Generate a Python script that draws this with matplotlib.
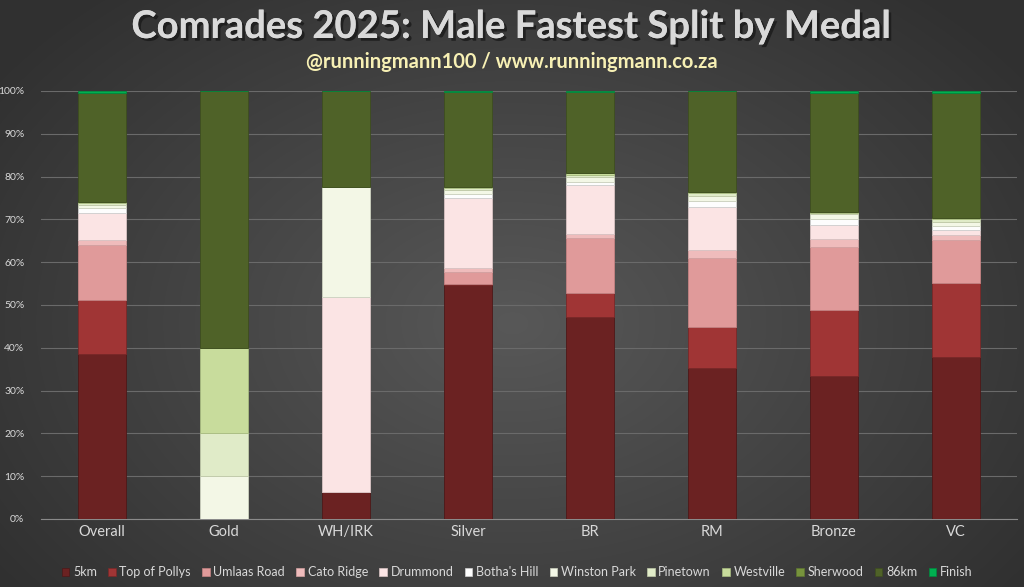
import numpy as np
import matplotlib
matplotlib.use("Agg")
import matplotlib.pyplot as plt
import matplotlib.patheffects as pe
from matplotlib.patches import Patch

categories = ["Overall", "Gold", "WH/IRK", "Silver", "BR", "RM", "Bronze", "VC"]
splits = ["5km", "Top of Pollys", "Umlaas Road", "Cato Ridge", "Drummond", "Botha's Hill",
          "Winston Park", "Pinetown", "Westville", "Sherwood", "86km", "Finish"]

# share (%) of runners whose fastest split was at each point, per medal group
km5          = [38.5,  0.0,  6.4, 54.7, 47.1, 35.2, 33.3, 37.9]
top_pollys   = [12.7,  0.0,  0.0,  0.3,  5.8,  9.6, 15.5, 17.2]
umlaas_road  = [12.8,  0.0,  0.0,  2.8, 12.7, 16.2, 14.7, 10.1]
cato_ridge   = [ 1.2,  0.0,  0.0,  0.8,  1.1,  1.8,  2.0,  1.2]
drummond     = [ 6.2,  0.0, 45.5, 16.4, 11.3, 10.2,  3.2,  1.1]
bothas_hill  = [ 1.2,  0.0,  0.0,  1.0,  0.8,  1.2,  1.5,  1.0]
winston_park = [ 0.8, 10.0, 25.7,  0.8,  1.0,  1.3,  1.0,  1.0]
pinetown     = [ 0.4, 10.0,  0.0,  0.5,  0.6,  0.6,  0.4,  0.5]
westville    = [ 0.2, 20.0,  0.0,  0.3,  0.4,  0.4,  0.2,  0.3]
sherwood     = [ 0.1,  0.0,  0.0,  0.0,  0.0,  0.0,  0.0,  0.0]
km86         = [25.4, 60.0, 22.4, 22.2, 19.0, 23.5, 27.7, 29.2]
finish       = [ 0.5,  0.0,  0.0,  0.2,  0.2,  0.0,  0.5,  0.5]

series = [km5, top_pollys, umlaas_road, cato_ridge, drummond, bothas_hill,
          winston_park, pinetown, westville, sherwood, km86, finish]
colors = ["#6b2222", "#a03535", "#e09a9a", "#efbcbc", "#fbe4e4", "#fdfdfd",
          "#f3f7e6", "#e0ebc8", "#c8dc9c", "#77933c", "#4f6228", "#00b050"]
edges = ["#4e1818", "#7a2828", "#c58383", "#d4a2a2", "#d9c4c4", "#d0d0d0",
         "#cdd2c0", "#bfc9a8", "#a8bc80", "#5e7630", "#3e4e1f", "#008a3e"]

W, H = 1024, 587
fig = plt.figure(figsize=(W / 100, H / 100), dpi=100)

# background radial gradient
bg = fig.add_axes([0, 0, 1, 1], zorder=-10)
yy, xx = np.mgrid[0:H, 0:W]
r = np.sqrt(((xx - W * 0.5) / (W * 0.62)) ** 2 + ((yy - H * 0.55) / (H * 0.75)) ** 2)
r = np.clip(r, 0, 1)
c0 = np.array([0x58, 0x58, 0x58]) / 255.0
c1 = np.array([0x30, 0x30, 0x30]) / 255.0
img = c0[None, None, :] * (1 - r[..., None]) + c1[None, None, :] * r[..., None]
bg.imshow(img, aspect="auto", extent=[0, 1, 0, 1])
bg.axis("off")

ax = fig.add_axes([41 / W, 1 - 519 / H, (1017 - 41) / W, (519 - 91) / H])
ax.set_facecolor("none")

x = np.arange(len(categories))
bottom = np.zeros(len(categories))
for name, vals, col, ec in zip(splits, series, colors, edges):
    v = np.array(vals) / 100.0
    ax.bar(x, v, 0.39, bottom=bottom, color=col, edgecolor=ec, linewidth=0.6,
           label=name, zorder=3)
    bottom += v

ax.set_xlim(-0.5, len(categories) - 0.5)
ax.set_ylim(0, 1)
ax.set_yticks(np.arange(0, 1.01, 0.1))
ax.set_yticklabels([f"{int(round(t * 100))}%" for t in np.arange(0, 1.01, 0.1)],
                   color="#d9d9d9", fontsize=7.5, family="Lato")
ax.set_xticks(x)
ax.set_xticklabels(categories, color="#d9d9d9", fontsize=10.5, family="Lato")
ax.tick_params(axis="both", length=0, pad=4)
ax.tick_params(axis="y", pad=12)
ax.grid(axis="y", color="#6a6a6a", linewidth=0.8, zorder=0)
for s in ["top", "right", "left"]:
    ax.spines[s].set_visible(False)
ax.spines["bottom"].set_color("#8a8a8a")
ax.spines["bottom"].set_linewidth(0.8)

fig.text(0.5, 1 - 27 / H, "Comrades 2025: Male Fastest Split by Medal",
         ha="center", va="center", fontsize=27.5, fontweight="bold", family="Lato",
         color="#d9d9d9",
         path_effects=[pe.withSimplePatchShadow(offset=(2, -2), shadow_rgbFace="#1a1a1a", alpha=0.8),
                       pe.Normal()])
fig.text(0.5, 1 - 62 / H, "@runningmann100 / www.runningmann.co.za",
         ha="center", va="center", fontsize=14.5, fontweight="bold", family="Lato",
         color="#f7f0b4")

handles = [Patch(facecolor=c, edgecolor=e, linewidth=0.5) for c, e in zip(colors, edges)]
leg = fig.legend(handles, splits, loc="center", bbox_to_anchor=(0.505, 1 - 572 / H),
                 ncol=12, frameon=False, fontsize=9, handlelength=0.6, handleheight=0.6,
                 handletextpad=0.3, columnspacing=0.9, prop={"family": "Lato", "size": 9})
for t in leg.get_texts():
    t.set_color("#d9d9d9")

fig.savefig("out.png", dpi=100)
